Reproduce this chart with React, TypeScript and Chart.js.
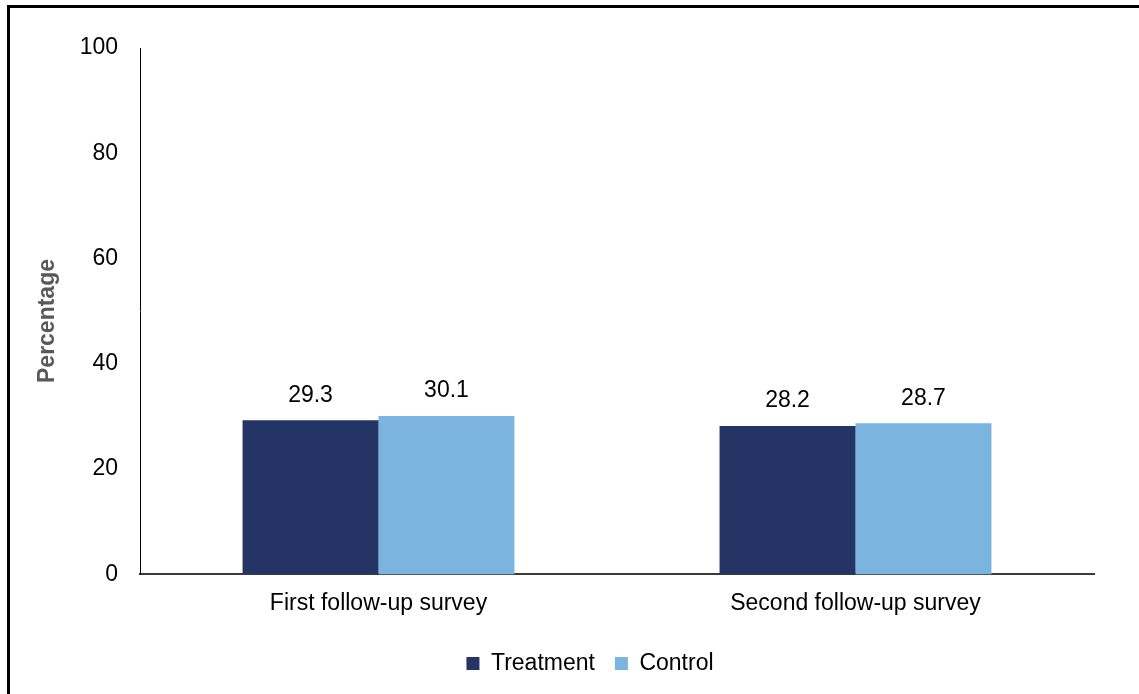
import React, { useEffect, useRef } from "react";
import { Chart, registerables } from "chart.js";

Chart.register(...registerables);

const categories = ["First follow-up survey", "Second follow-up survey"];
const treatment = [29.3, 28.2];
const control = [30.1, 28.7];
const seriesNames = ["Treatment", "Control"];
const yTicks = [0, 20, 40, 60, 80, 100];
const yTitle = "Percentage";

const FONT = "'Liberation Sans', Arial, sans-serif";
const FS = 23;

const valueLabels = {
  id: "valueLabels",
  afterLayout(chart: any) {
    if (chart.legend) {
      chart.legend.left += 43;
      chart.legend.right += 43;
    }
  },
  afterDatasetsDraw(chart: any) {
    const ctx = chart.ctx;
    ctx.save();
    ctx.font = `${FS}px ${FONT}`;
    ctx.fillStyle = "#000";
    ctx.textAlign = "center";
    ctx.textBaseline = "middle";
    chart.data.datasets.forEach((ds: any, i: number) => {
      const meta = chart.getDatasetMeta(i);
      meta.data.forEach((bar: any, j: number) => {
        ctx.fillText(Number(ds.data[j]).toFixed(1), bar.x, bar.y - 25);
      });
    });
    // y-axis title
    ctx.translate(48, 321);
    ctx.rotate(-Math.PI / 2);
    ctx.font = `bold ${FS}px ${FONT}`;
    ctx.fillStyle = "#595959";
    ctx.fillText(yTitle, 0, 0);
    ctx.restore();
  },
};

export default function App() {
  const ref = useRef<HTMLCanvasElement>(null);
  useEffect(() => {
    if (!ref.current) return;
    const chart = new Chart(ref.current, {
      type: "bar",
      data: {
        labels: categories,
        datasets: [
          { label: seriesNames[0], data: treatment, backgroundColor: "#243565" },
          { label: seriesNames[1], data: control, backgroundColor: "#7bb4df" },
        ],
      },
      options: {
        animation: false,
        responsive: false,
        maintainAspectRatio: false,
        layout: { padding: { left: 0, right: 45, top: 48, bottom: 9 } },
        datasets: { bar: { categoryPercentage: 0.57, barPercentage: 1 } },
        plugins: {
          legend: {
            position: "bottom",
            labels: {
              font: { family: FONT, size: FS },
              color: "#000",
              boxWidth: 13,
              boxHeight: 13,
              padding: 20,
            },
          },
          tooltip: { enabled: false },
        },
        scales: {
          x: {
            grid: { display: false, drawTicks: false },
            border: { display: true, color: "#3a3a3a", width: 2 },
            ticks: { font: { family: FONT, size: FS }, color: "#000", padding: 15 },
          },
          y: {
            min: 0,
            max: 100,
            afterBuildTicks: (scale: any) => {
              scale.ticks = yTicks.map((v) => ({ value: v }));
            },
            afterFit: (scale: any) => {
              scale.width = 140;
            },
            grid: { display: false, drawTicks: false },
            border: { display: true, color: "#000", width: 1 },
            ticks: { font: { family: FONT, size: FS }, color: "#000", padding: 22 },
          },
        },
      },
      plugins: [valueLabels],
    });
    return () => chart.destroy();
  }, []);
  return (
    <div style={{ position: "fixed", left: 0, top: 0, width: 1139, height: 694, background: "#fff" }}>
      <div
        style={{
          position: "absolute",
          left: 7,
          top: 5,
          width: 1200,
          height: 800,
          border: "3px solid #000",
          boxSizing: "border-box",
        }}
      />
      <canvas ref={ref} width={1139} height={694} style={{ position: "absolute", left: 0, top: 0 }} />
    </div>
  );
}
